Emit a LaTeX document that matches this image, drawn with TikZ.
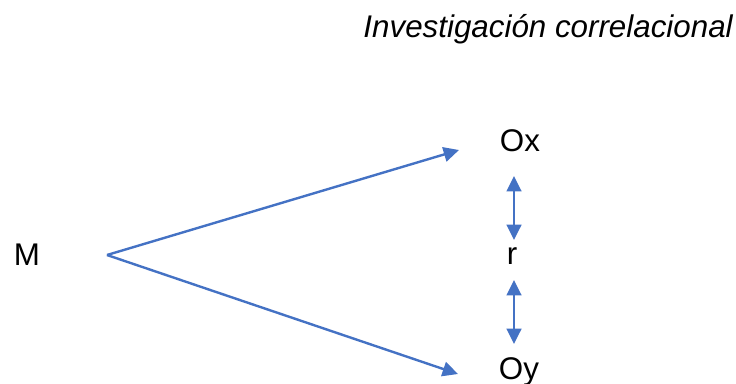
\documentclass[tikz,border=0pt]{standalone}
\usepackage{fontspec}
\setmainfont{Liberation Sans}
\usetikzlibrary{arrows.meta,positioning}
\definecolor{arrowblue}{RGB}{68,114,196}
\tikzset{
  lbl/.style={font=\fontsize{23.5}{28}\selectfont, inner sep=0pt},
  conn/.style={draw=arrowblue, line width=1.8pt,
    -{Triangle[length=11.5pt,width=11pt]}},
  biconn/.style={draw=arrowblue, line width=1.8pt,
    {Triangle[length=11.5pt,width=11pt]}-{Triangle[length=11.5pt,width=11pt]}}
}
\begin{document}
\begin{tikzpicture}[x=0.75pt,y=-0.75pt]
  \useasboundingbox (0,0) rectangle (736,383);
  % title
  \node[lbl, anchor=east, font=\fontsize{23.5}{28}\selectfont\itshape] (title) at (733,29) {Investigación correlacional};
  % labels
  \node[lbl] (M) at (27,255) {M};
  \node[lbl] (Ox) at (520,141) {Ox};
  \node[lbl] (r) at (512,256) {r};
  \node[lbl] (Oy) at (519,372) {Oy};
  % connector ends
  \coordinate (src) at (107,255);
  \coordinate (toOx) at (459,150);
  \coordinate (toOy) at (458,374);
  \coordinate (rt1) at (514,176);
  \coordinate (rb1) at (514,240);
  \coordinate (rt2) at (514,280);
  \coordinate (rb2) at (514,344);
  \draw[conn] (src) -- (toOx);
  \draw[conn] (src) -- (toOy);
  \draw[biconn] (rt1) -- (rb1);
  \draw[biconn] (rt2) -- (rb2);
\end{tikzpicture}
\end{document}
